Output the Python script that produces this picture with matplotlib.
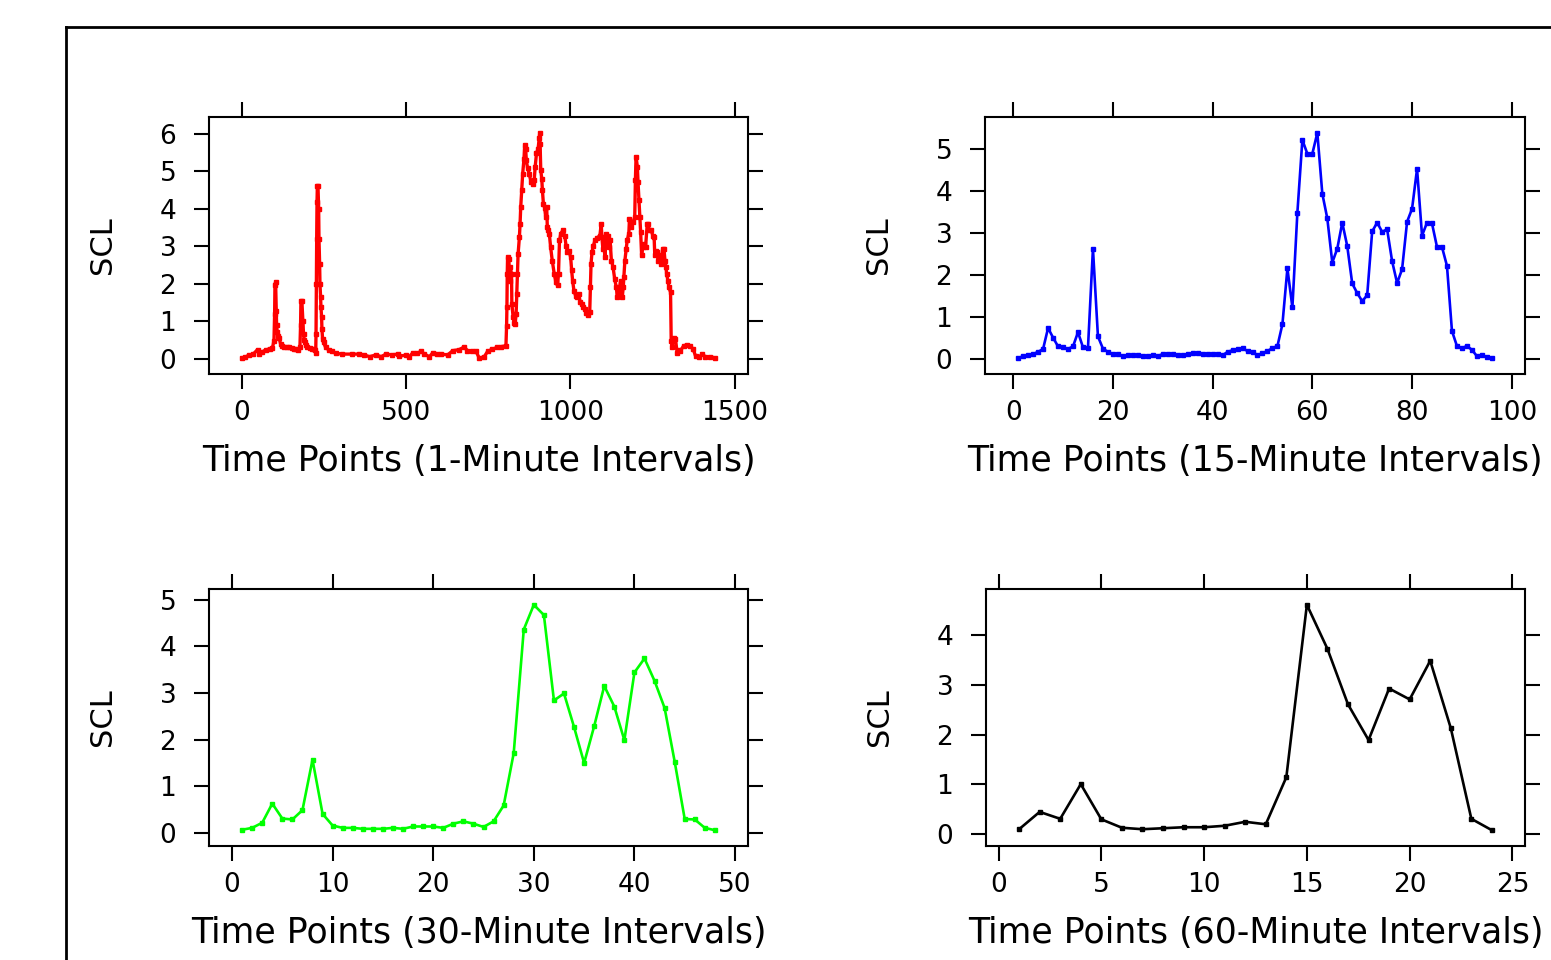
import matplotlib
matplotlib.use("Agg")
import matplotlib.pyplot as plt
from matplotlib.lines import Line2D

# SCL, 1-minute series (minute, value)
min1_x = [1, 10, 22, 35, 48, 53, 62, 73, 85, 93, 98, 100, 101, 103, 105, 106, 108, 110, 113, 118,
          123, 129, 137, 144, 152, 159, 166, 172, 177, 179, 180, 183, 186, 188, 190, 192, 196, 200,
          207, 215, 220, 223, 225, 226, 227, 228, 229, 230, 232, 234, 235, 237, 238, 240, 241, 243,
          244, 246, 249, 255, 265, 275, 286, 306, 336, 358, 372, 389, 409, 424, 439, 457, 475, 480,
          500, 510, 520, 533, 546, 556, 571, 581, 594, 606, 627, 642, 662, 677, 687, 700, 713, 723,
          738, 748, 763, 778, 790, 804, 806, 807, 808, 809, 813, 815, 817, 821, 822, 826, 829, 832,
          835, 837, 839, 841, 845, 847, 849, 852, 855, 859, 861, 864, 866, 870, 875, 880, 885, 890,
          893, 897, 902, 905, 907, 908, 910, 913, 915, 918, 922, 925, 928, 930, 933, 936, 940, 945,
          951, 956, 961, 964, 967, 971, 977, 983, 987, 991, 996, 1001, 1004, 1007, 1011, 1016, 1021,
          1026, 1030, 1034, 1039, 1044, 1049, 1054, 1059, 1061, 1063, 1066, 1070, 1075, 1082, 1090,
          1094, 1096, 1099, 1102, 1105, 1109, 1115, 1118, 1121, 1125, 1130, 1135, 1140, 1143, 1145,
          1148, 1153, 1158, 1161, 1163, 1166, 1170, 1173, 1178, 1180, 1185, 1191, 1196, 1198, 1200,
          1204, 1206, 1209, 1212, 1214, 1217, 1220, 1224, 1229, 1234, 1237, 1240, 1246, 1251, 1255,
          1257, 1260, 1264, 1267, 1272, 1276, 1281, 1285, 1288, 1291, 1293, 1297, 1300, 1305, 1307,
          1310, 1315, 1320, 1325, 1330, 1335, 1345, 1355, 1365, 1374, 1381, 1391, 1401, 1411, 1426,
          1440]
min1_scl = [0.02, 0.04, 0.09, 0.12, 0.24, 0.12, 0.18, 0.23, 0.26, 0.28, 0.47, 1.20, 1.95, 2.04, 1.28,
            0.90, 0.70, 0.60, 0.56, 0.40, 0.33, 0.30, 0.32, 0.30, 0.27, 0.25, 0.26, 0.23, 0.30, 0.90,
            1.54, 1.53, 1.01, 0.65, 0.50, 0.43, 0.36, 0.30, 0.28, 0.25, 0.26, 0.23, 0.15, 0.65, 1.99,
            3.20, 4.17, 4.59, 4.59, 4.00, 3.19, 2.52, 1.99, 1.63, 1.37, 1.10, 0.79, 0.52, 0.43, 0.30,
            0.23, 0.19, 0.14, 0.12, 0.12, 0.12, 0.10, 0.05, 0.10, 0.05, 0.12, 0.10, 0.12, 0.07, 0.09,
            0.05, 0.15, 0.14, 0.19, 0.12, 0.05, 0.15, 0.13, 0.12, 0.10, 0.21, 0.24, 0.31, 0.21, 0.20,
            0.19, 0.01, 0.05, 0.19, 0.25, 0.30, 0.32, 0.34, 0.88, 1.37, 2.26, 2.70, 2.66, 2.08, 2.44,
            2.26, 1.46, 1.10, 0.96, 0.92, 1.19, 1.72, 2.26, 2.79, 3.24, 3.59, 4.04, 4.49, 4.93, 5.33,
            5.69, 5.60, 5.29, 5.07, 4.93, 4.71, 4.66, 4.75, 5.11, 5.47, 5.60, 5.87, 6.02, 5.73, 5.02,
            4.80, 4.49, 4.13, 4.02, 3.77, 4.04, 3.50, 3.42, 3.33, 2.97, 2.61, 2.26, 2.03, 1.95, 2.26,
            3.15, 3.33, 3.42, 3.28, 3.01, 2.84, 2.88, 2.70, 2.35, 2.08, 1.81, 1.68, 1.63, 1.72, 1.50,
            1.46, 1.37, 1.32, 1.21, 1.17, 1.23, 1.90, 2.53, 2.84, 3.01, 3.15, 3.22, 3.28, 3.59, 3.24,
            2.93, 3.15, 2.70, 3.33, 3.28, 2.97, 3.15, 2.61, 2.44, 2.12, 1.90, 1.63, 1.72, 1.81, 2.08,
            1.63, 1.90, 2.17, 2.61, 2.93, 3.15, 3.33, 3.73, 3.50, 3.64, 3.77, 4.75, 5.38, 5.11, 4.71,
            4.22, 3.77, 3.37, 2.75, 2.97, 3.06, 2.97, 3.59, 3.59, 3.42, 3.42, 3.28, 3.24, 2.75, 2.88,
            2.84, 2.61, 2.75, 2.52, 2.93, 2.93, 2.61, 2.44, 2.26, 2.08, 1.90, 1.77, 0.47, 0.30, 0.56,
            0.52, 0.16, 0.23, 0.21, 0.34, 0.37, 0.34, 0.25, 0.07, 0.03, 0.12, 0.05, 0.05, 0.02]

min15_scl = [0.02, 0.07, 0.09, 0.12, 0.17, 0.24, 0.74, 0.51, 0.30, 0.28,
             0.24, 0.30, 0.64, 0.28, 0.26, 2.63, 0.54, 0.25, 0.17, 0.12,
             0.12, 0.07, 0.09, 0.09, 0.09, 0.07, 0.07, 0.09, 0.07, 0.12,
             0.12, 0.12, 0.09, 0.09, 0.12, 0.14, 0.14, 0.12, 0.12, 0.12,
             0.12, 0.09, 0.17, 0.21, 0.24, 0.26, 0.19, 0.17, 0.09, 0.14,
             0.19, 0.26, 0.31, 0.83, 2.16, 1.23, 3.49, 5.22, 4.89, 4.89,
             5.39, 3.94, 3.35, 2.30, 2.63, 3.25, 2.69, 1.80, 1.57, 1.38,
             1.52, 3.04, 3.25, 3.03, 3.09, 2.33, 1.81, 2.14, 3.27, 3.58,
             4.53, 2.94, 3.25, 3.23, 2.67, 2.67, 2.22, 0.67, 0.31, 0.26,
             0.31, 0.22, 0.07, 0.09, 0.05, 0.02]

min30_scl = [0.07, 0.11, 0.22, 0.63, 0.31, 0.29, 0.49, 1.57, 0.41, 0.16,
             0.11, 0.11, 0.09, 0.09, 0.09, 0.11, 0.09, 0.14, 0.14, 0.14,
             0.11, 0.20, 0.25, 0.20, 0.13, 0.25, 0.59, 1.71, 4.36, 4.89,
             4.67, 2.84, 2.99, 2.27, 1.50, 2.29, 3.15, 2.71, 1.99, 3.44,
             3.74, 3.26, 2.68, 1.53, 0.30, 0.29, 0.11, 0.06]

min60_scl = [0.09, 0.44, 0.30, 1.00, 0.29, 0.12, 0.09, 0.11, 0.13, 0.13, 0.16, 0.24,
             0.19, 1.14, 4.62, 3.73, 2.61, 1.89, 2.93, 2.71, 3.49, 2.13, 0.30, 0.07]

W, H = 1551, 960
fig = plt.figure(figsize=(W / 100, H / 100), dpi=100)
plt.rcParams['font.family'] = 'DejaVu Sans'

# outer box (cut off at right and bottom, like the original)
fig.add_artist(Line2D([66 / W, 66 / W], [0, 1 - 27 / H], color='black', lw=2))
fig.add_artist(Line2D([66 / W, 1], [1 - 27 / H, 1 - 27 / H], color='black', lw=2))

panels = [
    # (x, y, colour, label, xticks, yticks, frame in pixels l, t, r, b)
    (min1_x, min1_scl, '#FF0000', 'Time Points (1-Minute Intervals)', [0, 500, 1000, 1500], range(0, 7), (209, 117, 748, 374)),
    (list(range(1, 97)), min15_scl, '#0000FF', 'Time Points (15-Minute Intervals)', range(0, 101, 20), range(0, 6), (985, 117, 1525, 374)),
    (list(range(1, 49)), min30_scl, '#00FF00', 'Time Points (30-Minute Intervals)', range(0, 51, 10), range(0, 6), (209, 589, 748, 846)),
    (list(range(1, 25)), min60_scl, '#000000', 'Time Points (60-Minute Intervals)', range(0, 26, 5), range(0, 5), (986, 589, 1525, 846)),
]

for x, y, col, lab, xt, yt, (l, t, r, b) in panels:
    ax = fig.add_axes([l / W, 1 - b / H, (r - l) / W, (b - t) / H])
    ax.plot(x, y, color=col, lw=2.4 if col == '#FF0000' else 1.9,
            marker='s', ms=3, mec=col, mfc=col)
    # lattice-style 7% padding
    px = 0.07 * (max(x) - min(x))
    py = 0.07 * (max(y) - min(y))
    ax.set_xlim(min(x) - px, max(x) + px)
    ax.set_ylim(min(y) - py, max(y) + py)
    ax.set_xticks(list(xt))
    ax.set_yticks(list(yt))
    ax.tick_params(direction='out', length=10.5, width=1.5, top=True, right=True,
                   labeltop=False, labelright=False, labelsize=19, colors='black')
    ax.tick_params(axis='x', pad=8)
    ax.tick_params(axis='y', pad=13)
    for s in ax.spines.values():
        s.set_linewidth(1.5)
    ax.set_xlabel(lab, fontsize=25)
    ax.xaxis.set_label_coords(0.5, -0.338)
    ax.xaxis.label.set_va('center')
    ax.set_ylabel('SCL', fontsize=22)
    ax.yaxis.set_label_coords(-0.197, 0.5)
    ax.yaxis.label.set_va('center')

fig.savefig('out.png', dpi=100)
